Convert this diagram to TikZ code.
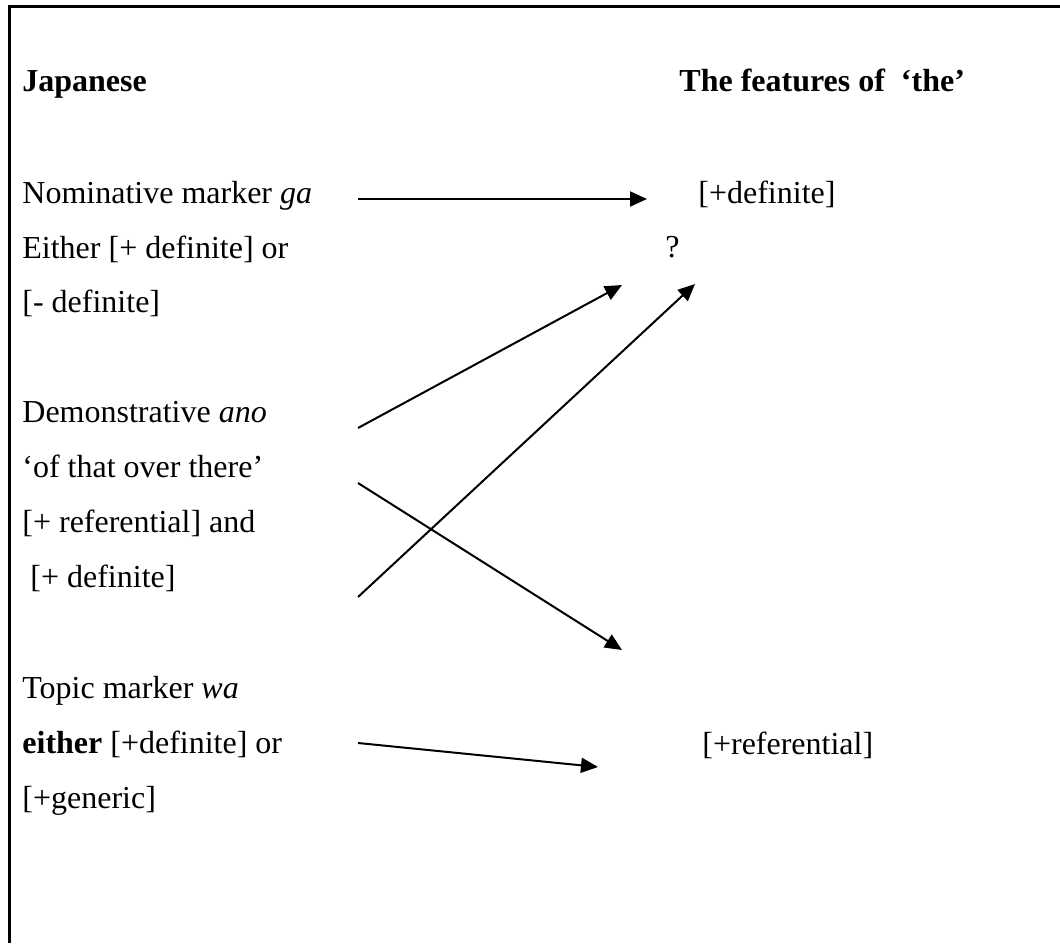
\documentclass[tikz,border=0pt]{standalone}
\usepackage{fontspec}
\setmainfont{Liberation Serif}
\usetikzlibrary{arrows.meta,positioning}
\tikzstyle{entry} = [anchor=base west, inner sep=0pt, font=\fontsize{16}{19}\selectfont]
\tikzstyle{heading} = [entry, font=\fontsize{16}{19}\selectfont\bfseries]
\tikzstyle{arrow} = [line width=1pt, -{Triangle[length=8.5pt,width=7.5pt]}]

\begin{document}
\begin{tikzpicture}[x=0.5pt,y=-0.5pt]
\useasboundingbox (0,0) rectangle (1060,943);
\draw [line width=1.5pt] (9,943) -- (9,6) -- (1060,6);

\node (japanese) [heading] at (22,91) {Japanese};
\node (features) [heading] at (679,91) {The features of \ `the'};
%
\node (nom1) [entry] at (22,203) {Nominative marker \textit{ga}};
\node (nom2) [entry] at (22,258) {Either [+ definite] or};
\node (nom3) [entry] at (22,312) {[- definite]};
%
\node (dem1) [entry] at (22,422) {Demonstrative \textit{ano}};
\node (dem2) [entry] at (22,477) {`of that over there'};
\node (dem3) [entry] at (22,532) {[+ referential] and};
\node (dem4) [entry] at (22,587) {\ [+ definite]};
%
\node (top1) [entry] at (22,698) {Topic marker \textit{wa}};
\node (top2) [entry] at (22,753) {\textbf{either} [+definite] or};
\node (top3) [entry] at (22,808) {[+generic]};
%
\node (definite) [entry] at (698,203) {[+definite]};
\node (query) [entry] at (665,257) {?};
\node (referential) [entry] at (702,754) {[+referential]};

\coordinate (nomout) at (358,199);
\coordinate (demout1) at (358,428);
\coordinate (demout2) at (358,483);
\coordinate (demout3) at (358,597);
\coordinate (topout) at (358,743);
\coordinate (defin) at (647,199);
\coordinate (queryin1) at (622,285);
\coordinate (queryin2) at (695,284);
\coordinate (lowin) at (622,650);
\coordinate (refin) at (598,767);

\draw [arrow] (nomout) -- (defin);
\draw [arrow] (demout1) -- (queryin1);
\draw [arrow] (demout2) -- (lowin);
\draw [arrow] (demout3) -- (queryin2);
\draw [arrow] (topout) -- (refin);

\end{tikzpicture}
\end{document}
